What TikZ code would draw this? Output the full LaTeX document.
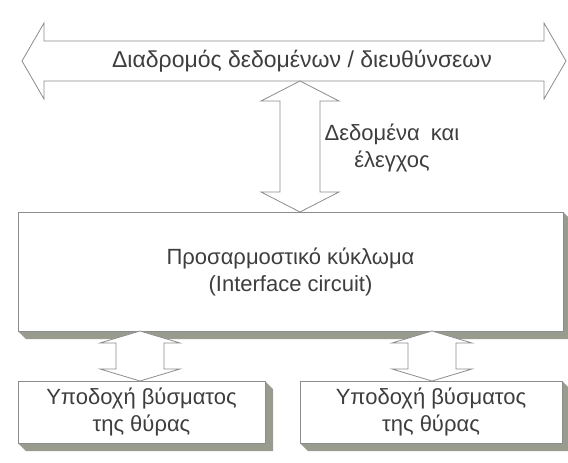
\documentclass[tikz,border=0pt]{standalone}
\usepackage[x11names, svgnames, rgb]{xcolor}
\usepackage{fontspec}
\setmainfont{Liberation Sans}
\usepackage{tikz}
\usetikzlibrary{calc, positioning, backgrounds}
\definecolor{linegray}{RGB}{140,140,140}
\definecolor{txtgray}{RGB}{62,62,62}
\definecolor{shadegray}{RGB}{152,156,142}

\newcommand{\dblfat}[5]{%
  \draw[fatarrow] (#1) -- ($(#1)+(#4,#5)$) -- ($(#1)+(#3,#5)$) -- ($(#2)+(#3,-#5)$)
    -- ($(#2)+(#4,-#5)$) -- (#2) -- ($(#2)+(-#4,-#5)$) -- ($(#2)+(-#3,-#5)$)
    -- ($(#1)+(-#3,#5)$) -- ($(#1)+(-#4,#5)$) -- cycle;}
\newcommand{\boxshade}[1]{%
  \fill[shadegray] (#1.south west) -- ($(#1.south west)+(8,8)$) -- ($(#1.south east)+(8,8)$)
    -- ($(#1.north east)+(8,8)$) -- (#1.north east) -- (#1.south east) -- cycle;}

\begin{document}
\begin{tikzpicture}[x=1pt, y=-1pt, line join=miter,
    every node/.style={text=txtgray, font=\fontsize{22}{27}\selectfont, align=center},
    fatarrow/.style={draw=linegray, fill=white, line width=.8pt},
    blockbox/.style={draw=linegray, fill=white, line width=.8pt, outer sep=0pt, inner sep=0pt}]
  \useasboundingbox (0,0) rectangle (568,463);

  \coordinate (busL) at (22,61);
  \coordinate (busR) at (566,61);
  \draw[fatarrow] (busL) -- ($(busL)+(22,-38)$) -- ($(busL)+(22,-20)$) -- ($(busR)+(-22,-20)$)
    -- ($(busR)+(-22,-38)$) -- (busR) -- ($(busR)+(-22,38)$) -- ($(busR)+(-22,20)$)
    -- ($(busL)+(22,20)$) -- ($(busL)+(22,38)$) -- cycle;
  \node[font=\fontsize{23}{27}\selectfont] (bustxt) at (302,61) {Διαδρομός δεδομένων / διευθύνσεων};

  \node[blockbox, minimum width=545, minimum height=119] (ifc) at (290.5,271.5)
    {Προσαρμοστικό κύκλωμα\\(Interface circuit)};
  \node[blockbox, minimum width=247, minimum height=62] (sockL) at (141.5,412)
    {Υποδοχή βύσματος\\της θύρας};
  \node[blockbox, minimum width=262, minimum height=62, right=35pt of sockL] (sockR)
    {Υποδοχή βύσματος\\της θύρας};
  \begin{scope}[on background layer]
    \boxshade{ifc}
    \boxshade{sockL}
    \boxshade{sockR}
  \end{scope}

  \coordinate (dtop) at (300,81);
  \coordinate (dbot) at (ifc.north -| dtop);
  \dblfat{dtop}{dbot}{20}{39}{20}
  \node (ctl) at (392,148) {Δεδομένα\hspace{5pt} και\\έλεγχος};

  \coordinate (lx) at (140,0);
  \coordinate (ltop) at (ifc.south -| lx);
  \coordinate (lbot) at (sockL.north -| lx);
  \dblfat{ltop}{lbot}{24}{40}{12}
  \coordinate (rx) at (432,0);
  \coordinate (rtop) at (ifc.south -| rx);
  \coordinate (rbot) at (sockR.north -| rx);
  \dblfat{rtop}{rbot}{24}{40}{12}
\end{tikzpicture}
\end{document}
